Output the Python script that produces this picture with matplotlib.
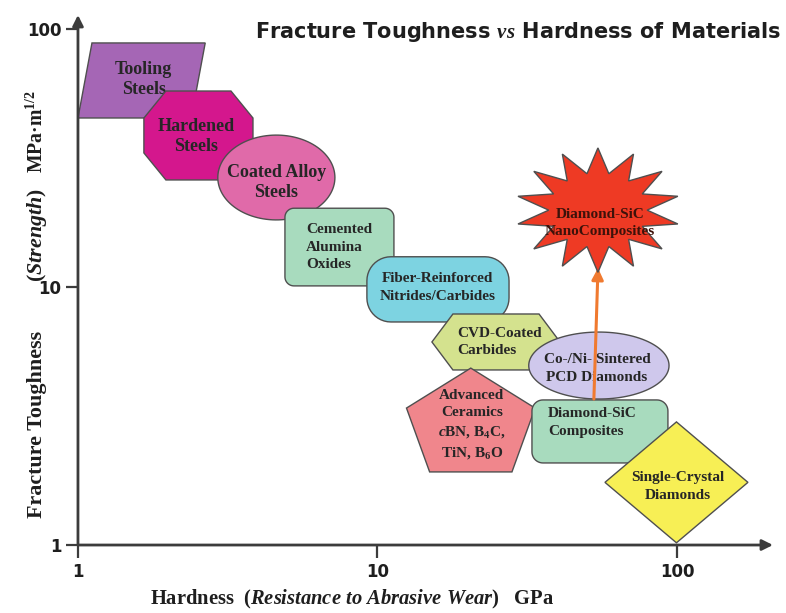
import numpy as np
import matplotlib.pyplot as plt
from matplotlib.patches import Polygon

plt.rcParams['mathtext.fontset'] = 'custom'
plt.rcParams['mathtext.rm'] = 'Liberation Serif:bold'
plt.rcParams['mathtext.it'] = 'Liberation Serif:italic:bold'
plt.rcParams['mathtext.bf'] = 'Liberation Serif:bold'

# Material families: hardness range (GPa) and fracture toughness range (MPa m^1/2)
materials = [
    'Tooling\nSteels',
    'Hardened\nSteels',
    'Coated Alloy\nSteels',
    'Cemented\nAlumina\nOxides',
    'Fiber-Reinforced\nNitrides/Carbides',
    'CVD-Coated\nCarbides',
    'Co-/Ni- Sintered\nPCD Diamonds',
    'Advanced\nCeramics\n$\\mathit{c}$BN, B$_4$C,\nTiN, B$_6$O',
    'Diamond-SiC\nComposites',
    'Single-Crystal\nDiamonds',
    'Diamond-SiC\nNanoComposites',
]
hard_lo = [1.0, 1.66, 2.93, 4.91, 9.22, 15.2, 32.0, 12.5, 32.8, 57.5, 29.0]
hard_hi = [2.66, 3.84, 7.21, 11.35, 27.5, 40.7, 94.1, 33.6, 93.3, 172.6, 102.3]
tough_lo = [45.2, 26.0, 18.2, 10.1, 7.32, 4.77, 3.68, 1.92, 2.08, 1.02, 11.4]
tough_hi = [88.3, 57.5, 38.8, 20.2, 13.1, 7.86, 6.69, 4.85, 3.65, 3.00, 34.6]

# improvement path: Diamond-SiC composites -> nanocomposites
arrow_hard = [52.8, 54.5]
arrow_tough = [3.68, 11.85]

x_ticks = [1, 10, 100]
y_ticks = [1, 10, 100]

# drawing style per family: outline, colour, font size, label alignment, label offset (px)
styles = [
    dict(kind='parallelogram', color='#a566b5', fs=13, ha='center', off=(2, 1)),
    dict(kind='octagon', color='#d4178d', fs=13, ha='center', off=(-2, -1)),
    dict(kind='ellipse', color='#e06aa9', fs=13, ha='center', off=(0, -5)),
    dict(kind='roundrect', r=9, color='#a8dbbe', fs=11, ha='left', off=(21, 0)),
    dict(kind='roundrect', r=24, color='#7dd3e1', fs=11, ha='center', off=(0, 2)),
    dict(kind='hexagon', color='#d4e28e', fs=11, ha='left', off=(25, 0)),
    dict(kind='ellipse', color='#cfc8ec', fs=11, ha='center', off=(-2, -3)),
    dict(kind='pentagon', color='#f0868c', fs=11, ha='center', off=(1, -5)),
    dict(kind='roundrect', r=11, color='#a8dbbe', fs=11, ha='left', off=(16, 9)),
    dict(kind='diamond', color='#f7ef55', fs=11, ha='center', off=(1, -4)),
    dict(kind='star', color='#ee3a24', fs=11, ha='center', off=(2, -13),
         tc='#3d120a'),
]

fig = plt.figure(figsize=(7.86, 6.13), dpi=100)
ax = fig.add_axes([0.0992, 0.1109, 0.8842, 0.8646])
ax.set_xscale('log')
ax.set_yscale('log')
ax.set_xlim(1, 209.2)
ax.set_ylim(1, 113.3)

# pixels per decade, so outlines can be built in screen units
bbox = ax.get_window_extent()
sx = bbox.width / np.log10(209.2)
sy = bbox.height / np.log10(113.3)


def round_rect(w, h, r):
    pts = []
    for cx, cy, a0 in [(w - r, h - r, 0), (r, h - r, 90), (r, r, 180), (w - r, r, 270)]:
        t = np.radians(np.linspace(a0, a0 + 90, 12))
        pts += list(zip(cx + r * np.cos(t), cy + r * np.sin(t)))
    return pts


def outline(st, x0, x1, y0, y1):
    u0, u1 = np.log10(x0), np.log10(x1)
    v0, v1 = np.log10(y0), np.log10(y1)
    w, h = (u1 - u0) * sx, (v1 - v0) * sy
    kind = st['kind']
    if kind == 'parallelogram':
        s = 14
        pts = [(0, 0), (s, h), (w, h), (w - s, 0)]
    elif kind == 'octagon':
        cx, cy = 22, 27
        pts = [(cx, 0), (w - cx, 0), (w, cy), (w, h - cy),
               (w - cx, h), (cx, h), (0, h - cy), (0, cy)]
    elif kind == 'ellipse':
        t = np.linspace(0, 2 * np.pi, 120)
        pts = list(zip(w / 2 * (1 + np.cos(t)), h / 2 * (1 + np.sin(t))))
    elif kind == 'roundrect':
        pts = round_rect(w, h, st['r'])
    elif kind == 'hexagon':
        d = 21
        pts = [(0, h / 2), (d, 0), (w - d, 0), (w, h / 2), (w - d, h), (d, h)]
    elif kind == 'pentagon':
        pts = [(w / 2, h), (0, 0.615 * h), (0.18 * w, 0), (0.82 * w, 0), (w, 0.615 * h)]
    elif kind == 'diamond':
        pts = [(w / 2, 0), (w, h / 2), (w / 2, h), (0, h / 2)]
    else:
        n = 14
        ang = np.pi / 2 + np.arange(2 * n) * np.pi / n
        rad = np.where(np.arange(2 * n) % 2 == 0, 1.0, 0.6)
        pts = list(zip(w / 2 * (1 + rad * np.cos(ang)), h / 2 * (1 + rad * np.sin(ang))))
    pts = np.array(pts)
    return np.column_stack([10 ** (u0 + pts[:, 0] / sx), 10 ** (v0 + pts[:, 1] / sy)])


for i, (name, st) in enumerate(zip(materials, styles)):
    verts = outline(st, hard_lo[i], hard_hi[i], tough_lo[i], tough_hi[i])
    ax.add_patch(Polygon(verts, closed=True, facecolor=st['color'],
                         edgecolor='#4f4f4f', lw=1, zorder=2 + 2 * i, clip_on=False))
    yc = np.sqrt(tough_lo[i] * tough_hi[i])
    if st['ha'] == 'left':
        xy = (hard_lo[i], yc)
    else:
        xy = (np.sqrt(hard_lo[i] * hard_hi[i]), yc)
    ax.annotate(name, xy=xy, xytext=st['off'], textcoords='offset pixels',
                ha=st['ha'], va='center', multialignment=st['ha'],
                fontsize=st['fs'], fontweight='bold', family='Liberation Serif',
                color=st.get('tc', '#262626'),
                linespacing=1.3 if st['fs'] > 12 else 1.45,
                zorder=3 + 2 * i)

# arrow from composites up to the nanocomposites
ax.annotate('', xy=(arrow_hard[1], arrow_tough[1]), xytext=(arrow_hard[0], arrow_tough[0]),
            arrowprops=dict(arrowstyle='-|>', color='#f07a30', lw=2.2,
                            mutation_scale=17, shrinkA=0, shrinkB=0),
            zorder=19)

# axes drawn as arrows
for spine in ax.spines.values():
    spine.set_visible(False)
axis_kw = dict(arrowstyle='-|>', color='#3c3c3c', lw=2, mutation_scale=16,
               shrinkA=0, shrinkB=0)
ax.annotate('', xy=(1, 0), xytext=(0, 0), xycoords='axes fraction',
            arrowprops=axis_kw, annotation_clip=False)
ax.annotate('', xy=(0, 1), xytext=(0, 0), xycoords='axes fraction',
            arrowprops=axis_kw, annotation_clip=False)

ax.set_xticks(x_ticks)
ax.set_yticks(y_ticks)
ax.set_xticklabels([str(t) for t in x_ticks])
ax.set_yticklabels([str(t) for t in y_ticks])
ax.minorticks_off()
ax.tick_params(length=9, width=1.6, color='#3c3c3c', labelsize=12, pad=4)
ax.tick_params(axis='y', pad=3)
for lab in ax.get_xticklabels() + ax.get_yticklabels():
    lab.set_fontweight('bold')
    lab.set_family('DejaVu Sans')
    lab.set_color('#1e1e1e')

label_kw = dict(fontweight='bold', family='Liberation Serif', color='#1e1e1e')
fig.text(0.3245, 0.948, 'Fracture Toughness $\\mathit{vs}$ Hardness of Materials',
         ha='left', va='center', fontsize=15, fontweight='bold',
         family='DejaVu Sans', color='#1e1e1e')
fig.text(0.448, 0.022, 'Hardness  ($\\mathit{Resistance\\ to\\ Abrasive\\ Wear}$)   GPa',
         ha='center', va='center', fontsize=14.8, **label_kw)

# y label in three pieces, leaving room for the "10" tick label
ylab_parts = ['Fracture Toughness', '($\\mathit{Strength}$)', 'MPa·m$^{1/2}$']
ylab_y = [0.307, 0.617, 0.785]
ylab_size = [15.8, 15.8, 14.2]
for part, yy, fs in zip(ylab_parts, ylab_y, ylab_size):
    fig.text(0.047, yy, part, ha='center', va='center', rotation=90,
             fontsize=fs, **label_kw)

fig.savefig('out.png', dpi=100)
